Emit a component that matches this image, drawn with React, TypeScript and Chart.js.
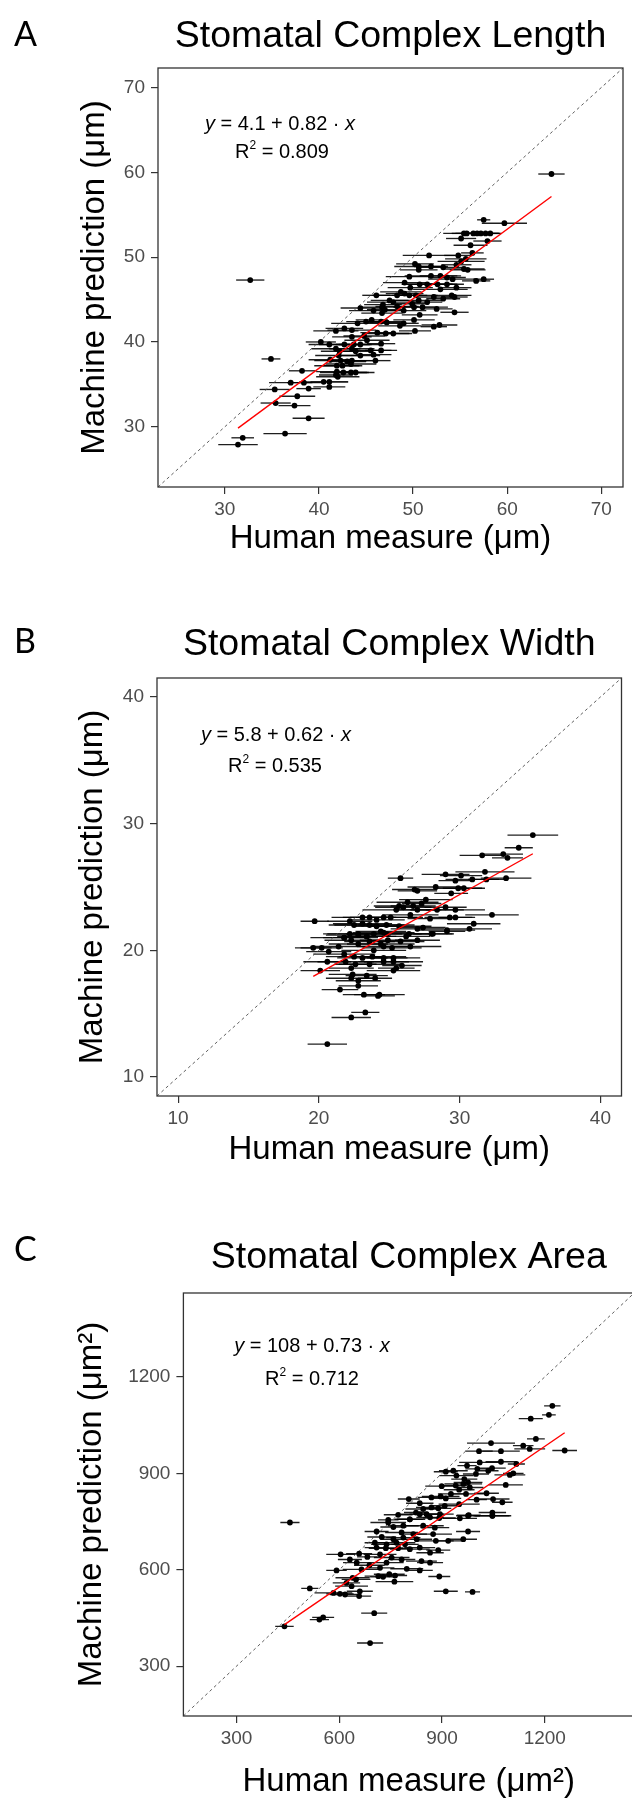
import React, { useEffect, useRef } from "react";
import { Chart, registerables } from "chart.js";

Chart.register(...registerables);

const FONT = "'Liberation Sans', Arial, Helvetica, sans-serif";
const LETTER_FONT = "Lato, 'Open Sans', 'Noto Sans', sans-serif";

// ---------------- Panel A : Stomatal Complex Length (µm) ----------------
const lengthHuman = [
  64.7, 32.7, 57.5, 59.7, 55.4, 55.7, 56.4, 56.8, 57.2, 57.7,
  58.2, 55.1, 57.9, 56.1, 56.3, 51.7, 54.8, 55.6, 55.1, 50.2,
  50.6, 51.9, 53.2, 54.6, 55.4, 50.6, 55.8, 49.6, 51.9, 52.9,
  53.6, 54.2, 56.7, 57.5, 49.1, 50.7, 51.5, 52.6, 53.6, 49.7,
  52.9, 54.6, 48.7, 49.1, 48.3, 46.1, 49.6, 50.3, 52.2, 54.1,
  54.4, 47.5, 47.9, 50.6, 51.5, 53.2, 44.4, 46.7, 47.0, 50.1,
  51.0, 52.5, 46.8, 48.3, 49.9, 54.4, 45.8, 46.7, 49.0, 50.7,
  44.1, 45.0, 45.6, 46.6, 47.2, 48.6, 49.0, 50.1, 52.2, 52.8,
  41.8, 42.7, 43.5, 44.8, 46.2, 47.1, 47.9, 50.2, 43.5, 45.1,
  40.2, 41.1, 42.7, 43.7, 44.4, 46.6, 41.8, 42.2, 43.5, 43.9,
  45.5, 46.6, 42.1, 44.4, 45.8, 41.2, 42.3, 43.0, 43.5, 46.0,
  34.9, 41.9, 42.5, 43.4, 38.2, 41.9, 42.6, 43.4, 43.9, 41.8,
  42.0, 37.0, 38.4, 40.5, 41.1, 35.3, 38.9, 41.1, 37.7, 35.4,
  37.4, 38.9, 36.4, 31.9, 31.4,
];
const lengthMachine = [
  59.8, 47.3, 54.4, 54.0, 52.8, 52.8, 52.8, 52.8, 52.8, 52.8,
  52.8, 52.2, 51.9, 51.4, 50.5, 50.2, 50.2, 49.8, 49.5, 49.2,
  48.9, 48.9, 48.8, 49.1, 48.6, 48.5, 48.5, 47.7, 47.8, 47.8,
  47.6, 47.4, 47.2, 47.4, 47.0, 46.8, 46.8, 46.8, 46.8, 46.4,
  46.2, 46.4, 45.9, 45.7, 45.5, 45.5, 45.5, 45.5, 45.3, 45.5,
  45.3, 44.9, 44.7, 44.9, 44.7, 45.1, 44.0, 44.1, 43.8, 44.1,
  44.1, 43.9, 44.4, 44.2, 44.5, 43.5, 43.7, 43.4, 43.7, 43.2,
  42.2, 42.4, 42.6, 42.4, 42.3, 41.9, 42.2, 42.6, 41.8, 42.0,
  41.3, 41.6, 41.4, 40.7, 41.1, 41.0, 41.0, 41.3, 40.6, 40.2,
  40.0, 39.7, 39.7, 39.7, 39.7, 39.8, 39.2, 38.9, 39.2, 38.9,
  39.0, 39.0, 38.4, 38.4, 38.5, 37.9, 37.8, 37.7, 37.8, 37.8,
  38.0, 37.2, 37.2, 37.4, 36.6, 36.5, 36.4, 36.4, 36.4, 36.1,
  35.9, 35.2, 35.2, 35.3, 35.3, 34.4, 34.5, 34.7, 33.6, 32.8,
  32.5, 31.0, 29.2, 28.7, 27.9,
];
const lengthErr = [
  1.4, 1.5, 0.7, 2.4, 2.2, 1.6, 1.9, 1.5, 2.0, 1.4,
  1.2, 1.6, 1.5, 1.8, 1.2, 2.8, 1.5, 2.2, 2.5, 2.0,
  2.6, 1.8, 2.4, 1.6, 2.2, 2.0, 1.9, 2.5, 2.8, 2.2,
  2.0, 2.6, 1.5, 1.1, 2.3, 1.9, 2.7, 2.1, 1.8, 2.4,
  2.9, 1.6, 2.2, 2.0, 2.6, 1.5, 1.9, 2.3, 1.7, 2.1,
  1.4, 2.0, 2.8, 2.5, 1.6, 1.8, 2.1, 2.4, 1.9, 2.2,
  2.7, 1.7, 2.0, 2.3, 1.8, 1.5, 2.6, 2.2, 2.4, 1.9,
  2.8, 2.1, 1.7, 2.5, 2.0, 2.3, 1.6, 2.2, 1.4, 1.9,
  2.4, 2.0, 2.6, 2.2, 1.8, 2.5, 2.0, 1.7, 2.1, 2.4,
  1.6, 2.2, 2.7, 1.9, 2.3, 1.5, 2.6, 2.0, 2.4, 1.8,
  2.2, 1.7, 2.5, 2.1, 1.9, 2.3, 2.8, 2.0, 2.6, 1.6,
  1.0, 2.4, 2.1, 2.7, 1.4, 2.2, 2.5, 1.9, 2.0, 1.8,
  2.3, 2.3, 1.8, 2.6, 2.0, 1.6, 1.3, 1.7, 1.9, 1.6,
  1.7, 1.7, 2.3, 1.2, 2.1,
];
const lengthTicks = [30, 40, 50, 60, 70];
const lengthLimits = [22.9, 72.3];
const lengthIntercept = 4.1;
const lengthSlope = 0.82;
const lengthR2 = 0.809;

// ---------------- Panel B : Stomatal Complex Width (µm) ----------------
const widthHuman = [
  35.2, 34.2, 31.6, 33.1, 33.4, 25.8, 29.0, 30.1, 31.8, 29.7,
  30.9, 31.9, 33.3, 28.3, 26.8, 27.0, 29.4, 29.9, 30.3, 27.6,
  26.3, 25.7, 26.0, 26.7, 27.3, 25.5, 27.0, 28.4, 29.0, 29.7,
  32.3, 25.1, 26.5, 27.9, 29.3, 29.7, 19.7, 22.2, 23.1, 23.6,
  24.1, 24.6, 22.5, 23.1, 23.6, 24.1, 24.8, 25.7, 27.0, 27.4,
  31.0, 30.7, 29.1, 28.1, 22.8, 24.4, 24.8, 26.2, 21.8, 23.4,
  22.2, 22.8, 23.4, 23.9, 24.6, 26.4, 28.0, 29.1, 21.8, 22.3,
  22.8, 23.6, 24.4, 24.9, 25.8, 26.5, 27.0, 19.6, 20.2, 21.4,
  23.9, 24.6, 25.2, 20.7, 21.8, 22.5, 23.1, 23.8, 24.6, 25.3,
  20.6, 21.9, 22.6, 23.6, 24.6, 25.3, 25.9, 22.3, 25.3, 25.5,
  20.1, 22.4, 23.4, 24.0, 22.3, 22.8, 22.8, 21.5, 23.2, 24.3,
  24.2, 23.3, 22.3, 20.6,
];
const widthMachine = [
  29.1, 28.1, 27.5, 27.6, 27.3, 25.7, 26.0, 25.9, 26.2, 25.5,
  25.6, 25.6, 25.7, 25.0, 24.8, 24.7, 24.5, 24.9, 24.9, 24.0,
  23.8, 23.5, 23.4, 23.5, 23.7, 23.2, 23.2, 23.2, 23.4, 23.2,
  22.8, 22.6, 22.8, 22.5, 22.6, 22.6, 22.3, 22.3, 22.6, 22.6,
  22.4, 22.6, 22.0, 22.1, 22.0, 21.9, 22.0, 21.9, 21.7, 21.8,
  22.1, 21.7, 21.6, 21.3, 21.3, 21.5, 21.3, 21.1, 21.0, 21.1,
  21.3, 21.2, 21.1, 21.3, 21.4, 21.3, 21.3, 21.5, 21.0, 20.8,
  20.5, 20.7, 20.5, 20.8, 20.7, 20.3, 20.8, 20.2, 20.2, 20.3,
  20.0, 20.3, 20.2, 19.9, 19.7, 19.5, 19.4, 19.5, 19.4, 19.4,
  19.1, 19.1, 18.9, 18.9, 19.1, 19.1, 18.8, 18.6, 18.4, 18.6,
  18.4, 18.1, 18.0, 17.8, 17.8, 17.6, 17.2, 16.9, 16.5, 16.5,
  16.4, 15.1, 14.7, 12.6,
];
const widthErr = [
  1.8, 1.0, 1.6, 1.4, 1.1, 0.9, 1.7, 1.5, 2.1, 1.2,
  1.9, 1.3, 1.8, 2.0, 1.6, 1.4, 1.2, 1.7, 1.5, 1.9,
  2.2, 1.8, 2.0, 1.6, 1.4, 2.4, 1.7, 1.9, 1.5, 2.1,
  1.9, 2.3, 2.0, 1.6, 1.8, 1.2, 1.0, 1.6, 2.2, 1.9,
  2.0, 2.4, 1.8, 2.1, 2.5, 1.7, 2.0, 2.3, 1.9, 1.6,
  1.9, 1.6, 2.0, 1.4, 2.2, 1.8, 2.5, 1.7, 1.5, 2.1,
  1.9, 2.3, 1.7, 2.0, 2.2, 1.8, 1.6, 1.3, 2.4, 1.9,
  2.1, 1.8, 2.4, 2.0, 1.7, 2.2, 1.6, 1.3, 1.5, 2.0,
  2.3, 1.9, 2.1, 1.6, 2.2, 2.0, 1.8, 2.4, 1.7, 1.9,
  1.7, 2.0, 1.5, 2.2, 1.8, 2.1, 1.4, 1.6, 1.9, 1.3,
  1.4, 1.7, 1.5, 1.2, 1.8, 1.6, 1.4, 1.3, 1.5, 1.8,
  1.2, 1.0, 1.4, 1.4,
];
const widthTicks = [10, 20, 30, 40];
const widthLimits = [8.5, 41.5];
const widthIntercept = 5.8;
const widthSlope = 0.62;
const widthR2 = 0.535;

// ---------------- Panel C : Stomatal Complex Area (µm²) ----------------
const areaHuman = [
  1222, 1212, 1159, 1174, 1043, 1137, 1156, 1258, 1008, 1072,
  1072, 1117, 1010, 973, 1003, 1046, 1035, 933, 911, 999,
  1108, 1098, 942, 965, 976, 962, 940, 899, 981, 1086,
  950, 926, 970, 1030, 869, 896, 1001, 803, 835, 911,
  1049, 1076, 845, 869, 889, 908, 950, 824, 855, 894,
  978, 1047, 1047, 743, 806, 952, 456, 772, 806, 835,
  865, 892, 976, 1047, 743, 758, 787, 845, 879, 709,
  782, 816, 874, 976, 724, 758, 787, 826, 962, 882,
  918, 704, 738, 767, 792, 709, 736, 772, 806, 835,
  865, 889, 604, 658, 682, 719, 753, 782, 840, 865,
  631, 651, 738, 688, 592, 665, 719, 797, 835, 714,
  728, 746, 763, 892, 639, 649, 761, 621, 636, 514,
  583, 602, 617, 660, 658, 911, 989, 542, 553, 702,
  440, 690,
];
const areaMachine = [
  1110, 1082, 1070, 1007, 994, 986, 976, 971, 969, 969,
  936, 929, 934, 924, 914, 916, 908, 908, 905, 898,
  900, 895, 893, 882, 872, 867, 862, 860, 856, 864,
  849, 836, 836, 838, 825, 828, 818, 820, 807, 822,
  820, 810, 789, 794, 791, 799, 804, 778, 773, 773,
  770, 778, 768, 755, 757, 760, 747, 771, 757, 773,
  763, 761, 768, 768, 747, 733, 737, 737, 731, 719,
  716, 711, 711, 719, 702, 695, 700, 695, 695, 690,
  690, 684, 679, 684, 679, 669, 667, 667, 664, 669,
  653, 661, 648, 650, 640, 648, 638, 632, 627, 622,
  632, 622, 622, 614, 598, 601, 606, 603, 598, 580,
  578, 586, 582, 579, 575, 570, 563, 559, 549, 542,
  528, 525, 523, 533, 518, 533, 531, 445, 452, 465,
  424, 372,
];
const areaErr = [
  24, 20, 35, 26, 70, 30, 45, 36, 40, 55,
  45, 25, 60, 28, 35, 40, 30, 42, 35, 38,
  30, 45, 50, 38, 42, 55, 35, 48, 40, 50,
  45, 38, 52, 36, 40, 55, 30, 32, 40, 45,
  48, 30, 52, 45, 38, 42, 60, 35, 50, 40,
  35, 40, 55, 30, 45, 50, 28, 42, 38, 55,
  40, 48, 35, 50, 52, 38, 45, 60, 42, 35,
  48, 40, 55, 35, 42, 38, 50, 45, 40, 52,
  38, 30, 45, 55, 40, 35, 50, 42, 58, 45,
  40, 35, 42, 38, 30, 48, 52, 40, 45, 38,
  35, 40, 50, 45, 30, 55, 42, 48, 38, 40,
  38, 45, 35, 32, 50, 42, 55, 40, 48, 25,
  55, 40, 45, 38, 35, 35, 22, 28, 32, 38,
  27, 38,
];
const areaTicks = [300, 600, 900, 1200];
const areaLimits = [145, 1461];
const areaIntercept = 108;
const areaSlope = 0.73;
const areaR2 = 0.712;

// ---------------- panel definitions (layout) ----------------
type Panel = {
  letter: string;
  title: string;
  xTitle: string;
  yTitle: string;
  human: number[];
  machine: number[];
  err: number[];
  ticks: number[];
  limits: number[];
  intercept: number;
  slope: number;
  r2: number;
  frame: { top: number; width: number; height: number };
  area: { left: number; top: number; right: number; bottom: number };
  letterBase: number;
  titleBase: number;
  eq: { cx1: number; base1: number; cx2: number; base2: number };
  yTitleX: number;
  xTitleY: number;
};

const panels: Panel[] = [
  {
    letter: "A",
    title: "Stomatal Complex Length",
    xTitle: "Human measure (μm)",
    yTitle: "Machine prediction (μm)",
    human: lengthHuman,
    machine: lengthMachine,
    err: lengthErr,
    ticks: lengthTicks,
    limits: lengthLimits,
    intercept: lengthIntercept,
    slope: lengthSlope,
    r2: lengthR2,
    frame: { top: 0, width: 632, height: 600 },
    area: { left: 158, top: 68, right: 623, bottom: 487 },
    letterBase: 46,
    titleBase: 47,
    eq: { cx1: 280, base1: 130, cx2: 282, base2: 158 },
    yTitleX: 95,
    xTitleY: 539,
  },
  {
    letter: "B",
    title: "Stomatal Complex Width",
    xTitle: "Human measure (μm)",
    yTitle: "Machine prediction (μm)",
    human: widthHuman,
    machine: widthMachine,
    err: widthErr,
    ticks: widthTicks,
    limits: widthLimits,
    intercept: widthIntercept,
    slope: widthSlope,
    r2: widthR2,
    frame: { top: 600, width: 632, height: 600 },
    area: { left: 157, top: 78, right: 621.5, bottom: 496 },
    letterBase: 53,
    titleBase: 55,
    eq: { cx1: 276, base1: 141, cx2: 275, base2: 172 },
    yTitleX: 93,
    xTitleY: 550,
  },
  {
    letter: "C",
    title: "Stomatal Complex Area",
    xTitle: "Human measure (μm²)",
    yTitle: "Machine prediction (μm²)",
    human: areaHuman,
    machine: areaMachine,
    err: areaErr,
    ticks: areaTicks,
    limits: areaLimits,
    intercept: areaIntercept,
    slope: areaSlope,
    r2: areaR2,
    frame: { top: 1200, width: 645, height: 620 },
    area: { left: 183.4, top: 93, right: 634.2, bottom: 516 },
    letterBase: 61,
    titleBase: 68,
    eq: { cx1: 312, base1: 152, cx2: 312, base2: 185 },
    yTitleX: 92,
    xTitleY: 582,
  },
];

type Seg = { t: string; italic?: boolean; sup?: boolean };

function drawSegments(ctx: CanvasRenderingContext2D, segs: Seg[], cx: number, base: number, size: number) {
  const fontFor = (s: Seg) =>
    `${s.italic ? "italic " : ""}${s.sup ? Math.round(size * 0.62) : size}px ${FONT}`;
  let total = 0;
  const widths = segs.map((s) => {
    ctx.font = fontFor(s);
    const w = ctx.measureText(s.t).width;
    total += w;
    return w;
  });
  let x = cx - total / 2;
  ctx.textAlign = "left";
  ctx.textBaseline = "alphabetic";
  segs.forEach((s, i) => {
    ctx.font = fontFor(s);
    ctx.fillText(s.t, x, s.sup ? base - size * 0.45 : base);
    x += widths[i];
  });
}

function PanelChart({ p }: { p: Panel }) {
  const ref = useRef<HTMLCanvasElement>(null);

  useEffect(() => {
    const canvas = ref.current;
    if (!canvas) return;
    const W = p.frame.width;
    const H = p.frame.height;
    const a = p.area;
    const axisTitleSize = 33;
    const half = (axisTitleSize * 1.2) / 2;

    const points = p.human.map((h, i) => ({ x: h, y: p.machine[i] }));
    const xMin = Math.min(...p.human);
    const xMax = Math.max(...p.human);
    const fitLine = [xMin, xMax].map((x) => ({ x, y: p.intercept + p.slope * x }));
    const diag = p.limits.map((v) => ({ x: v, y: v }));

    const decor = {
      id: "decor" + p.letter,
      beforeDatasetsDraw(chart: any) {
        const { ctx, chartArea: ca, scales } = chart;
        const xs = scales.x;
        const ys = scales.y;
        ctx.save();
        ctx.beginPath();
        ctx.rect(ca.left, ca.top, ca.right - ca.left, ca.bottom - ca.top);
        ctx.clip();
        ctx.strokeStyle = "rgba(0,0,0,0.88)";
        ctx.lineWidth = 1.35;
        p.human.forEach((h, i) => {
          const py = ys.getPixelForValue(p.machine[i]);
          ctx.beginPath();
          ctx.moveTo(xs.getPixelForValue(h - p.err[i]), py);
          ctx.lineTo(xs.getPixelForValue(h + p.err[i]), py);
          ctx.stroke();
        });
        ctx.restore();
      },
      afterDraw(chart: any) {
        const { ctx, chartArea: ca } = chart;
        ctx.save();
        ctx.strokeStyle = "#333333";
        ctx.lineWidth = 1.3;
        ctx.strokeRect(ca.left, ca.top, ca.right - ca.left, ca.bottom - ca.top);

        ctx.fillStyle = "#000";
        ctx.textBaseline = "alphabetic";
        ctx.textAlign = "left";
        ctx.font = `34px ${LETTER_FONT}`;
        ctx.fillText(p.letter, 14, p.letterBase);

        ctx.textAlign = "center";
        ctx.font = `37.5px ${FONT}`;
        ctx.fillText(p.title, (ca.left + ca.right) / 2, p.titleBase);

        drawSegments(
          ctx,
          [
            { t: "y", italic: true },
            { t: ` = ${p.intercept} + ${p.slope} · ` },
            { t: "x", italic: true },
          ],
          p.eq.cx1,
          p.eq.base1,
          20
        );
        drawSegments(
          ctx,
          [{ t: "R" }, { t: "2", sup: true }, { t: ` = ${p.r2.toFixed(3)}` }],
          p.eq.cx2,
          p.eq.base2,
          20
        );
        ctx.restore();
      },
    };

    const tickFont = { family: FONT, size: 19 };
    const titleFont = { family: FONT, size: axisTitleSize };

    const chart = new Chart(canvas, {
      type: "scatter",
      data: {
        datasets: [
          {
            type: "line",
            data: fitLine,
            borderColor: "#FF0000",
            borderWidth: 1.4,
            pointRadius: 0,
            fill: false,
          },
          {
            type: "scatter",
            data: points,
            pointRadius: 2.9,
            pointBackgroundColor: "#000",
            pointBorderWidth: 0,
            backgroundColor: "#000",
            borderColor: "#000",
          },
          {
            type: "line",
            data: diag,
            borderColor: "#4D4D4D",
            borderWidth: 0.9,
            borderDash: [3, 3],
            pointRadius: 0,
            fill: false,
          },
        ],
      } as any,
      options: {
        responsive: false,
        animation: false,
        devicePixelRatio: 1,
        events: [],
        layout: { padding: { left: 0, top: a.top, right: W - a.right, bottom: 0 } },
        plugins: {
          legend: { display: false },
          tooltip: { enabled: false },
          title: { display: false },
        },
        scales: {
          x: {
            type: "linear",
            position: "bottom",
            min: p.limits[0],
            max: p.limits[1],
            afterBuildTicks: (s: any) => {
              s.ticks = p.ticks.map((v) => ({ value: v }));
            },
            afterFit: (s: any) => {
              s.height = H - a.bottom;
            },
            grid: {
              display: true,
              drawOnChartArea: false,
              drawTicks: true,
              tickLength: 7,
              color: "#333333",
              lineWidth: 1.2,
            },
            border: { display: false },
            ticks: {
              color: "#4D4D4D",
              font: tickFont,
              padding: 4,
              maxRotation: 0,
              autoSkip: false,
              callback: (v: any) => String(v),
            },
            title: {
              display: true,
              text: p.xTitle,
              color: "#000",
              font: titleFont,
              padding: { top: 0, bottom: H - p.xTitleY - half },
            },
          },
          y: {
            type: "linear",
            position: "left",
            min: p.limits[0],
            max: p.limits[1],
            afterBuildTicks: (s: any) => {
              s.ticks = p.ticks.map((v) => ({ value: v }));
            },
            afterFit: (s: any) => {
              s.width = a.left;
            },
            grid: {
              display: true,
              drawOnChartArea: false,
              drawTicks: true,
              tickLength: 7,
              color: "#333333",
              lineWidth: 1.2,
            },
            border: { display: false },
            ticks: {
              color: "#4D4D4D",
              font: tickFont,
              padding: 6,
              autoSkip: false,
              callback: (v: any) => String(v),
            },
            title: {
              display: true,
              text: p.yTitle,
              color: "#000",
              font: titleFont,
              padding: { top: p.yTitleX - half, bottom: 0 },
            },
          },
        },
      } as any,
      plugins: [decor],
    });

    return () => chart.destroy();
  }, [p]);

  return (
    <canvas
      ref={ref}
      width={p.frame.width}
      height={p.frame.height}
      style={{
        position: "absolute",
        left: 0,
        top: p.frame.top,
        width: p.frame.width,
        height: p.frame.height,
      }}
    />
  );
}

export default function App() {
  return (
    <div
      style={{
        position: "absolute",
        left: 0,
        top: 0,
        width: 632,
        height: 1800,
        overflow: "hidden",
        background: "#ffffff",
      }}
    >
      {panels.map((p) => (
        <PanelChart key={p.letter} p={p} />
      ))}
    </div>
  );
}
